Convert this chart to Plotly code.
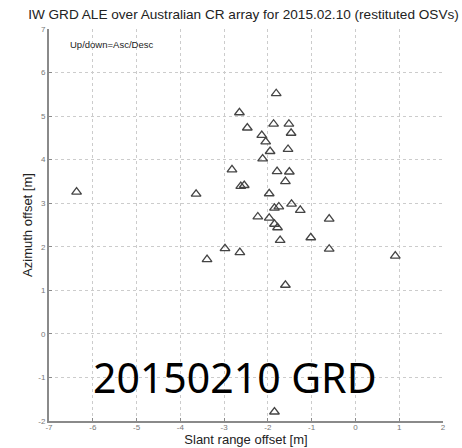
import plotly.graph_objects as go

slant_range = [-1.81, -2.65, -1.87, -1.52, -2.47, -1.47, -2.14, -2.05, -1.54, -1.95,
               -2.12, -2.82, -1.79, -1.51, -1.60, -2.62, -2.54, -3.64, -1.97, -1.46,
               -1.85, -1.75, -1.26, -2.23, -1.97, -0.60, -1.85, -1.78, -1.02, -1.72,
               -2.98, -0.60, -2.64, -3.39, -6.37, 0.91, -1.60, -1.85]
azimuth = [5.52, 5.08, 4.82, 4.82, 4.73, 4.61, 4.56, 4.41, 4.24, 4.19,
           4.02, 3.77, 3.73, 3.72, 3.50, 3.39, 3.41, 3.21, 3.22, 2.98,
           2.89, 2.92, 2.84, 2.69, 2.66, 2.64, 2.52, 2.44, 2.21, 2.15,
           1.96, 1.95, 1.87, 1.71, 3.26, 1.79, 1.12, -1.79]

x_ticks = [-7, -6, -5, -4, -3, -2, -1, 0, 1, 2]
y_ticks = [-2, -1, 0, 1, 2, 3, 4, 5, 6, 7]

title_text = "IW GRD ALE over Australian CR array for 2015.02.10 (restituted OSVs)"
legend_note = "Up/down=Asc/Desc"
overlay_text = "20150210 GRD"

fig = go.Figure()
fig.add_trace(go.Scatter(
    x=slant_range, y=azimuth, mode="markers",
    marker=dict(symbol="triangle-up-open", size=8.5, color="#444444",
                line=dict(width=1.3, color="#444444")),
    showlegend=False, hoverinfo="x+y"))

axis_common = dict(
    showgrid=True, gridcolor="#cccccc", griddash="dot", gridwidth=1,
    zeroline=False, showline=True, linecolor="#8a8a8a", linewidth=2,
    ticks="inside", ticklen=3, tickcolor="#8a8a8a",
    tickfont=dict(family="Liberation Sans", size=8, color="#777777"),
    automargin=False,
)

fig.update_layout(
    width=462, height=448,
    margin=dict(l=49, r=19, t=29, b=27),
    paper_bgcolor="white", plot_bgcolor="white",
    title=dict(text=title_text, x=0.527, xanchor="center", y=0.969, yanchor="middle",
               font=dict(family="Liberation Sans", size=13.6, color="#222222")),
    xaxis=dict(range=[-7, 2], tickvals=x_ticks, ticktext=[str(v) for v in x_ticks],
               ticklabelstandoff=-3,
               title=dict(text="Slant range offset [m]", standoff=3,
                          font=dict(family="Liberation Sans", size=13, color="#222222")),
               **axis_common),
    yaxis=dict(range=[-2, 7], tickvals=y_ticks, ticktext=[str(v) for v in y_ticks],
               title=dict(text="Azimuth offset [m]", standoff=3,
                          font=dict(family="Liberation Sans", size=13, color="#222222")),
               **axis_common),
    annotations=[
        dict(text=legend_note, xref="paper", yref="paper", x=0.048, y=0.96,
             xanchor="left", yanchor="middle", showarrow=False,
             font=dict(family="Liberation Sans", size=9.5, color="#222222")),
        dict(text=overlay_text, xref="x", yref="y", x=-2.74, y=-0.99,
             xanchor="center", yanchor="middle", showarrow=False,
             font=dict(family="Noto Sans", size=41, color="black")),
    ],
)

fig.write_html("out.html")
